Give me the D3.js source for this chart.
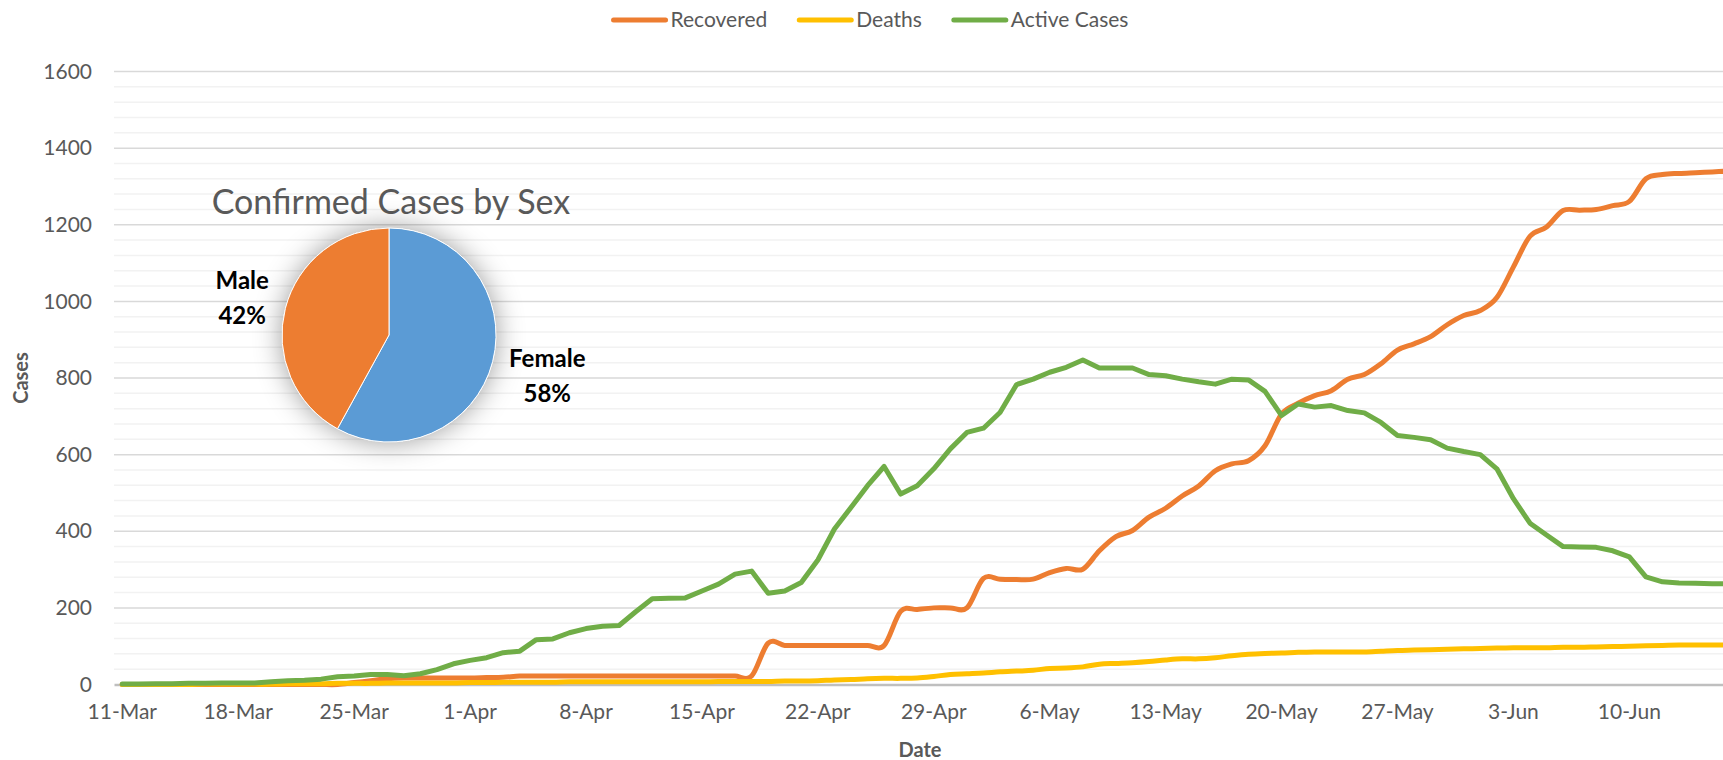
<!DOCTYPE html>
<html>
<head>
<meta charset="utf-8">
<script src="https://cdn.jsdelivr.net/npm/d3@7"></script>
<style>
  body { margin: 0; background: #fff; }
  svg { display: block; font-family: Lato, "Open Sans", sans-serif; }
</style>
</head>
<body>
<svg id="chart" width="1723" height="760"></svg>
<script>
// categories: one per day, 11-Mar .. 16-Jun
var days = d3.timeDay.range(new Date(2020, 2, 11), new Date(2020, 5, 17));

// series values
var recovered = [
  0, 0, 0, 0, 0, 0, 0, 0, 0, 0,
  0, 0, 0, 0, 5, 10, 15, 17, 17, 17,
  17, 17, 18, 19, 22, 22, 22, 22, 22, 22,
  22, 22, 22, 22, 22, 22, 22, 22, 22, 108,
  102, 102, 102, 102, 102, 102, 102, 191, 196, 200,
  200, 200, 277, 275, 274, 275, 292, 303, 301, 349,
  386, 402, 437, 460, 492, 518, 558, 576, 584, 623,
  706, 734, 754, 767, 797, 809, 837, 873, 889, 908,
  939, 963, 976, 1010, 1090, 1170, 1194, 1237, 1238, 1240,
  1250, 1261, 1320, 1331, 1334, 1336, 1338, 1340
];
var deaths = [
  0, 0, 0, 0, 0, 1, 1, 1, 1, 1,
  2, 2, 2, 3, 3, 3, 4, 4, 4, 4,
  4, 5, 5, 6, 6, 6, 6, 7, 7, 7,
  7, 7, 7, 7, 7, 7, 8, 8, 8, 8,
  9, 9, 10, 12, 13, 15, 16, 16, 17, 21,
  26, 28, 30, 33, 35, 37, 42, 43, 46, 53,
  55, 57, 60, 64, 67, 67, 70, 75, 79, 81,
  82, 84, 85, 85, 85, 85, 87, 89, 90, 91,
  92, 93, 94, 95, 96, 96, 96, 97, 97, 98,
  99, 100, 101, 102, 103, 103, 103, 103
];
var active = [
  1, 1, 2, 2, 3, 3, 4, 4, 4, 7,
  10, 11, 14, 20, 22, 26, 26, 23, 28, 39,
  54, 63, 70, 83, 87, 117, 119, 135, 146, 152,
  154, 190, 224, 225, 226, 244, 262, 288, 296, 238,
  244, 266, 325, 406, 462, 519, 569, 497, 519, 563,
  615, 658, 669, 710, 783, 797, 815, 828, 847, 826,
  826, 826, 809, 806, 797, 790, 784, 797, 795, 765,
  702, 732, 724, 728, 715, 709, 684, 650, 645, 639,
  617, 608, 600, 563, 485, 421, 390, 360, 359, 358,
  349, 333, 281, 268, 265, 264, 263, 263
];

var seriesNames = ["Recovered", "Deaths", "Active Cases"];
var seriesColors = ["#ED7D31", "#FFC000", "#70AD47"];

// pie
var sexLabels = ["Female", "Male"];
var sexShare = [58, 42];
var sexColors = ["#5B9BD5", "#ED7D31"];

var yMax = 1600;
var yMajor = 200, yMinor = 40;

var svg = d3.select("#chart");
var L = 114, R = 1737, T = 71.5, B = 684.5;

var x = d3.scaleBand().domain(days).range([L, R]);
var y = d3.scaleLinear().domain([0, yMax]).range([B, T]);
function cx(d) { return x(d) + x.bandwidth() / 2; }

// gridlines
svg.append("g")
  .selectAll("line")
  .data(d3.range(yMinor, yMax + 1, yMinor).filter(function (v) { return v % yMajor !== 0; }))
  .join("line")
  .attr("x1", L).attr("x2", R)
  .attr("y1", y).attr("y2", y)
  .attr("stroke", "#F2F2F2").attr("stroke-width", 1.5);

svg.append("g")
  .selectAll("line")
  .data(d3.range(yMajor, yMax + 1, yMajor))
  .join("line")
  .attr("x1", L).attr("x2", R)
  .attr("y1", y).attr("y2", y)
  .attr("stroke", "#D9D9D9").attr("stroke-width", 1.5);

// y axis labels
var yAxis = svg.append("g")
  .attr("transform", "translate(" + (L - 22) + ",0)")
  .call(d3.axisLeft(y).tickValues(d3.range(0, yMax + 1, yMajor)).tickFormat(d3.format("d")).tickSize(0).tickPadding(0));
yAxis.select(".domain").remove();
yAxis.selectAll("text")
  .attr("font-family", "Lato, sans-serif")
  .attr("font-size", 21)
  .attr("fill", "#595959");

// x axis
var xAxis = svg.append("g")
  .attr("transform", "translate(0," + B + ")")
  .call(d3.axisBottom(x)
    .tickValues(days.filter(function (d, i) { return i % 7 === 0; }))
    .tickFormat(d3.timeFormat("%-d-%b"))
    .tickSize(0).tickPadding(20));
xAxis.select(".domain")
  .attr("stroke", "#BFBFBF").attr("stroke-width", 2.5);
xAxis.selectAll("text")
  .attr("font-family", "Lato, sans-serif")
  .attr("font-size", 21)
  .attr("fill", "#595959");

// axis titles
svg.append("text")
  .attr("transform", "translate(28," + ((T + B) / 2) + ") rotate(-90)")
  .attr("text-anchor", "middle")
  .attr("font-size", 20).attr("font-weight", "bold").attr("fill", "#595959")
  .text("Cases");
svg.append("text")
  .attr("x", 920).attr("y", 757)
  .attr("text-anchor", "middle")
  .attr("font-size", 20).attr("font-weight", "bold").attr("fill", "#595959")
  .text("Date");

// lines
var series = [recovered, deaths, active];
var smooth = d3.line().x(function (d, i) { return cx(days[i]); }).y(y).curve(d3.curveCardinal.tension(0));
var straight = d3.line().x(function (d, i) { return cx(days[i]); }).y(y);

svg.append("g")
  .selectAll("path")
  .data(series)
  .join("path")
  .attr("d", function (d, i) { return i === 2 ? straight(d) : smooth(d); })
  .attr("fill", "none")
  .attr("stroke", function (d, i) { return seriesColors[i]; })
  .attr("stroke-width", 5)
  .attr("stroke-linejoin", "round")
  .attr("stroke-linecap", "round");

// legend
var legend = svg.append("g");
var lx = 0;
seriesNames.forEach(function (name, i) {
  var g = legend.append("g").attr("transform", "translate(" + lx + ",0)");
  g.append("line")
    .attr("x1", 2).attr("x2", 54).attr("y1", 0).attr("y2", 0)
    .attr("stroke", seriesColors[i]).attr("stroke-width", 5).attr("stroke-linecap", "round");
  var t = g.append("text")
    .attr("x", 59).attr("y", 0).attr("dy", "0.35em")
    .attr("font-size", 21).attr("fill", "#595959")
    .text(name);
  lx += 59 + t.node().getComputedTextLength() + 30;
});
lx -= 30;
legend.attr("transform", "translate(" + (870 - lx / 2) + ",20)");

// pie inset
var pcx = 389, pcy = 335, pr = 107;

var defs = svg.append("defs");
var f = defs.append("filter").attr("id", "glow")
  .attr("x", "-60%").attr("y", "-60%").attr("width", "220%").attr("height", "220%");
f.append("feDropShadow")
  .attr("dx", 0).attr("dy", 0).attr("stdDeviation", 14)
  .attr("flood-color", "#000").attr("flood-opacity", 0.4);

svg.append("text")
  .attr("x", 391).attr("y", 214)
  .attr("text-anchor", "middle")
  .attr("font-size", 34).attr("fill", "#595959")
  .text("Confirmed Cases by Sex");

var pie = d3.pie().sort(null).value(function (d) { return d; });
var arcs = pie(sexShare);
var arc = d3.arc().innerRadius(0).outerRadius(pr);

var pg = svg.append("g").attr("transform", "translate(" + pcx + "," + pcy + ")");
pg.append("circle").attr("r", pr).attr("fill", "#fff").attr("filter", "url(#glow)");
pg.selectAll("path")
  .data(arcs)
  .join("path")
  .attr("d", arc)
  .attr("fill", function (d, i) { return sexColors[i]; })
  .attr("stroke", "#fff").attr("stroke-width", 1);

// outside labels
arcs.forEach(function (a, i) {
  var mid = (a.startAngle + a.endAngle) / 2;
  var dx = Math.sin(mid), dy = -Math.cos(mid);
  var g = svg.append("g");
  var t1 = g.append("text").attr("font-size", 24).attr("font-weight", "bold").attr("fill", "#000")
    .attr("text-anchor", "middle").text(sexLabels[i]);
  var t2 = g.append("text").attr("font-size", 24).attr("font-weight", "bold").attr("fill", "#000")
    .attr("text-anchor", "middle").text(sexShare[i] + "%");
  var w = Math.max(t1.node().getComputedTextLength(), t2.node().getComputedTextLength());
  var ax = pcx + (pr + 17) * dx + (dx < 0 ? -w / 2 : w / 2);
  var ay = pcy + 155 * dy;
  t1.attr("x", ax).attr("y", ay - 7);
  t2.attr("x", ax).attr("y", ay + 28);
});
</script>
</body>
</html>
